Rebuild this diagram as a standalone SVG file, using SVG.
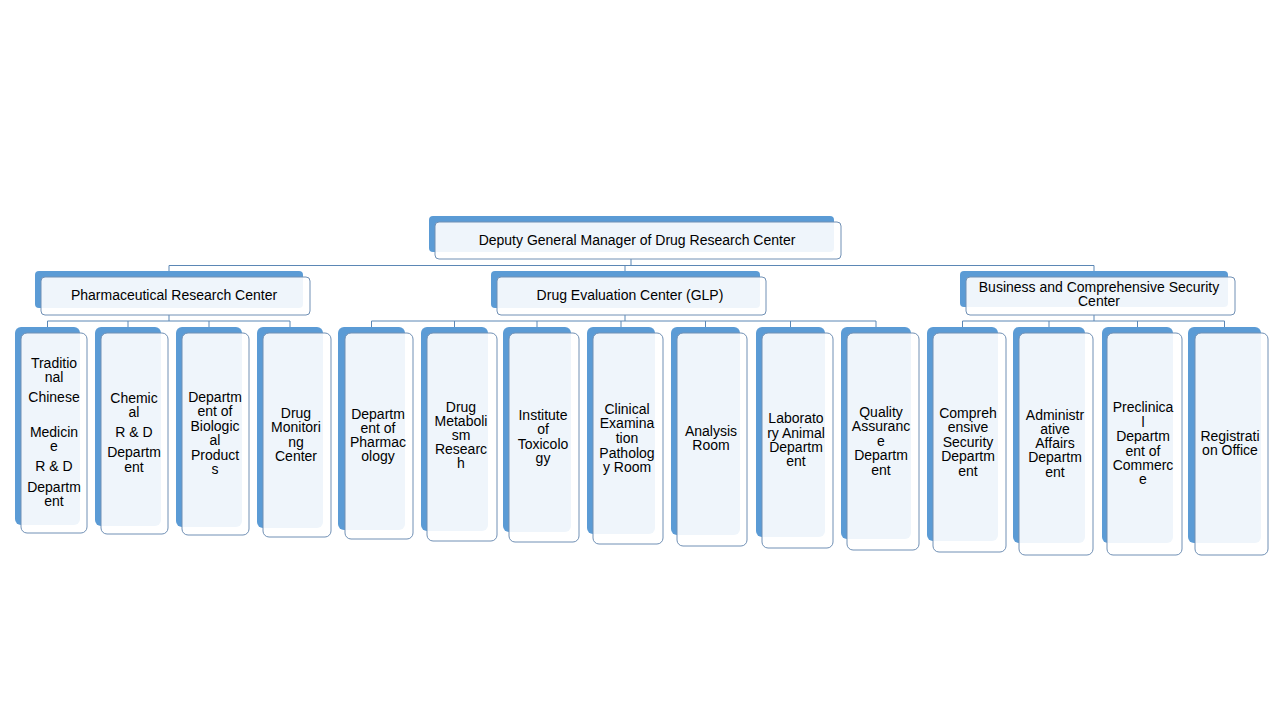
<svg xmlns="http://www.w3.org/2000/svg" width="1280" height="720" viewBox="0 0 1280 720">
<style>
.bk{fill:#5b9bd5}
.fr{fill:#ffffff;fill-opacity:0.9;stroke:#7090b5;stroke-width:1}
.t{font-family:"Liberation Sans",Arial,sans-serif;font-size:14px;fill:#000;text-anchor:middle}
.cn{stroke:#5b87b5;stroke-width:1;fill:none}
</style>
<rect width="1280" height="720" fill="#ffffff"/>
<g id="connectors">
<path class="cn" d="M631,259V265.5M169,265.5H1094M169,265.5V271M625,265.5V271M1094,265.5V271"/>
<path class="cn" d="M169,315V321M47.5,321H290M47.5,321V327M128,321V327M209,321V327M290,321V327"/>
<path class="cn" d="M625,315V321M371.5,321H876M371.5,321V327M454.5,321V327M537,321V327M621,321V327M705.5,321V327M790.5,321V327M876,321V327"/>
<path class="cn" d="M1094,315V321M962.5,321H1224.5M962.5,321V327M1049,321V327M1137.5,321V327M1224.5,321V327"/>
</g>
<g id="n-top"><rect class="bk" x="429" y="216" width="405" height="36" rx="4"/><rect class="fr" x="435" y="222" width="406" height="37" rx="4"/><text class="t" x="637" y="245">Deputy General Manager of Drug Research Center</text></g>
<g id="n-pharma"><rect class="bk" x="35" y="271" width="268" height="37" rx="4"/><rect class="fr" x="41" y="277" width="269" height="38" rx="4"/><text class="t" x="174" y="300">Pharmaceutical Research Center</text></g>
<g id="n-eval"><rect class="bk" x="491" y="271" width="269" height="37" rx="4"/><rect class="fr" x="497" y="277" width="269" height="38" rx="4"/><text class="t" x="630" y="300">Drug Evaluation Center (GLP)</text></g>
<g id="n-business"><rect class="bk" x="960" y="271" width="268" height="36" rx="4"/><rect class="fr" x="966" y="277" width="269" height="38" rx="4"/><text class="t"><tspan x="1099" y="292">Business and Comprehensive Security</tspan><tspan x="1099" y="306">Center</tspan></text></g>

<g id="n-tcm"><rect class="bk" x="15" y="327" width="65" height="198" rx="6"/><rect class="fr" x="21" y="333" width="66" height="200" rx="6"/><text class="t"><tspan x="54" y="368">Traditio</tspan><tspan x="54" y="382">nal</tspan><tspan x="54" y="402">Chinese</tspan><tspan x="54" y="437">Medicin</tspan><tspan x="54" y="451">e</tspan><tspan x="54" y="471">R &amp; D</tspan><tspan x="54" y="492">Departm</tspan><tspan x="54" y="506">ent</tspan></text></g>
<g id="n-chem"><rect class="bk" x="95" y="327" width="66" height="199" rx="6"/><rect class="fr" x="101" y="333" width="67" height="201" rx="6"/><text class="t"><tspan x="134" y="403">Chemic</tspan><tspan x="134" y="417">al</tspan><tspan x="134" y="437">R &amp; D</tspan><tspan x="134" y="457">Departm</tspan><tspan x="134" y="472">ent</tspan></text></g>
<g id="n-bio"><rect class="bk" x="176" y="327" width="66" height="200" rx="6"/><rect class="fr" x="182" y="333" width="67" height="202" rx="6"/><text class="t"><tspan x="215" y="402">Departm</tspan><tspan x="215" y="416">ent of</tspan><tspan x="215" y="431">Biologic</tspan><tspan x="215" y="445">al</tspan><tspan x="215" y="460">Product</tspan><tspan x="215" y="474">s</tspan></text></g>
<g id="n-monitor"><rect class="bk" x="257" y="327" width="66" height="201" rx="6"/><rect class="fr" x="263" y="333" width="68" height="204" rx="6"/><text class="t"><tspan x="296" y="418">Drug</tspan><tspan x="296" y="432">Monitori</tspan><tspan x="296" y="447">ng</tspan><tspan x="296" y="461">Center</tspan></text></g>

<g id="n-pharmacology"><rect class="bk" x="338" y="327" width="67" height="203" rx="6"/><rect class="fr" x="345" y="333" width="68" height="206" rx="6"/><text class="t"><tspan x="378" y="419">Departm</tspan><tspan x="378" y="433">ent of</tspan><tspan x="378" y="447">Pharmac</tspan><tspan x="378" y="461">ology</tspan></text></g>
<g id="n-metab"><rect class="bk" x="421" y="327" width="67" height="204" rx="6"/><rect class="fr" x="427" y="333" width="70" height="208" rx="6"/><text class="t"><tspan x="461" y="412">Drug</tspan><tspan x="461" y="426">Metaboli</tspan><tspan x="461" y="440">sm</tspan><tspan x="461" y="454">Researc</tspan><tspan x="461" y="468">h</tspan></text></g>
<g id="n-tox"><rect class="bk" x="503" y="327" width="68" height="205" rx="6"/><rect class="fr" x="509" y="333" width="70" height="209" rx="6"/><text class="t"><tspan x="543" y="420">Institute</tspan><tspan x="543" y="434">of</tspan><tspan x="543" y="449">Toxicolo</tspan><tspan x="543" y="463">gy</tspan></text></g>
<g id="n-clinical"><rect class="bk" x="587" y="327" width="68" height="207" rx="6"/><rect class="fr" x="593" y="333" width="70" height="211" rx="6"/><text class="t"><tspan x="627" y="414">Clinical</tspan><tspan x="627" y="428">Examina</tspan><tspan x="627" y="443">tion</tspan><tspan x="627" y="458">Patholog</tspan><tspan x="627" y="472">y Room</tspan></text></g>
<g id="n-analysis"><rect class="bk" x="671" y="327" width="69" height="208" rx="6"/><rect class="fr" x="677" y="333" width="70" height="213" rx="6"/><text class="t"><tspan x="711" y="436">Analysis</tspan><tspan x="711" y="450">Room</tspan></text></g>
<g id="n-animal"><rect class="bk" x="756" y="327" width="69" height="210" rx="6"/><rect class="fr" x="762" y="333" width="71" height="215" rx="6"/><text class="t"><tspan x="796" y="423">Laborato</tspan><tspan x="796" y="438">ry Animal</tspan><tspan x="796" y="452">Departm</tspan><tspan x="796" y="466">ent</tspan></text></g>
<g id="n-quality"><rect class="bk" x="841" y="327" width="70" height="212" rx="6"/><rect class="fr" x="847" y="333" width="72" height="217" rx="6"/><text class="t"><tspan x="881" y="417">Quality</tspan><tspan x="881" y="431">Assuranc</tspan><tspan x="881" y="446">e</tspan><tspan x="881" y="460">Departm</tspan><tspan x="881" y="475">ent</tspan></text></g>

<g id="n-security"><rect class="bk" x="927" y="327" width="71" height="214" rx="6"/><rect class="fr" x="933" y="333" width="73" height="219" rx="6"/><text class="t"><tspan x="968" y="418">Compreh</tspan><tspan x="968" y="432">ensive</tspan><tspan x="968" y="447">Security</tspan><tspan x="968" y="461">Departm</tspan><tspan x="968" y="476">ent</tspan></text></g>
<g id="n-admin"><rect class="bk" x="1013" y="327" width="72" height="216" rx="6"/><rect class="fr" x="1019" y="333" width="74" height="222" rx="6"/><text class="t"><tspan x="1055" y="420">Administr</tspan><tspan x="1055" y="434">ative</tspan><tspan x="1055" y="448">Affairs</tspan><tspan x="1055" y="462">Departm</tspan><tspan x="1055" y="477">ent</tspan></text></g>
<g id="n-commerce"><rect class="bk" x="1102" y="327" width="71" height="216" rx="6"/><rect class="fr" x="1107" y="333" width="75" height="222" rx="6"/><text class="t"><tspan x="1143" y="412">Preclinica</tspan><tspan x="1143" y="427">l</tspan><tspan x="1143" y="441">Departm</tspan><tspan x="1143" y="456">ent of</tspan><tspan x="1143" y="470">Commerc</tspan><tspan x="1143" y="484">e</tspan></text></g>
<g id="n-registration"><rect class="bk" x="1188" y="327" width="73" height="216" rx="6"/><rect class="fr" x="1195" y="333" width="73" height="222" rx="6"/><text class="t"><tspan x="1230" y="441">Registrati</tspan><tspan x="1230" y="455">on Office</tspan></text></g>
</svg>
